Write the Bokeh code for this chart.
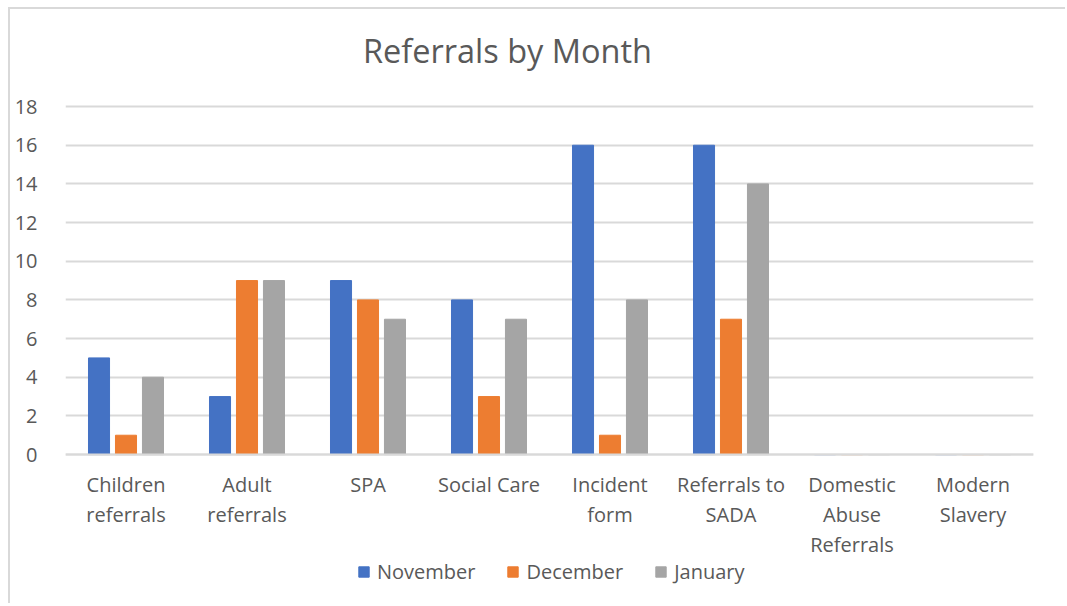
from bokeh.plotting import figure
from bokeh.models import ColumnDataSource, FactorRange, Range1d, FixedTicker, Legend, Label
from bokeh.transform import dodge
from bokeh.embed import file_html
from bokeh.resources import INLINE

categories = ["Children\nreferrals", "Adult\nreferrals", "SPA", "Social Care",
              "Incident\nform", "Referrals to\nSADA", "Domestic\nAbuse\nReferrals",
              "Modern\nSlavery"]
november = [5, 3, 9, 8, 16, 16, 0, 0]
december = [1, 9, 8, 3, 1, 7, 0, 0]
january = [4, 9, 7, 7, 8, 14, 0, 0]
y_ticks = [0, 2, 4, 6, 8, 10, 12, 14, 16, 18]

FONT = "Open Sans"
TXT = "#595959"
GRID = "#d9d9d9"

src = ColumnDataSource(dict(cat=categories, nov=november, dec=december, jan=january))

# frame spans the full height so title, category labels and legend live inside it
p = figure(x_range=FactorRange(factors=categories, range_padding=0),
           y_range=Range1d(-7.60, 23.02),
           width=1057, height=596, output_backend="svg", toolbar_location=None,
           min_border_left=55, min_border_right=34, min_border_top=0,
           min_border_bottom=4)
p.styles = {"border-top": "2px solid #d9d9d9", "border-left": "2px solid #d9d9d9",
            "margin-left": "8px", "margin-top": "7px"}
p.outline_line_color = None

bw = 0.174
off = 0.223
r1 = p.vbar(x=dodge("cat", -off, range=p.x_range), top="nov", width=bw, source=src,
            color="#4472C4")
r2 = p.vbar(x=dodge("cat", 0, range=p.x_range), top="dec", width=bw, source=src,
            color="#ED7D31")
r3 = p.vbar(x=dodge("cat", off, range=p.x_range), top="jan", width=bw, source=src,
            color="#A5A5A5")

p.xgrid.grid_line_color = None
p.ygrid.grid_line_color = GRID
p.ygrid.grid_line_width = 2
p.yaxis.ticker = FixedTicker(ticks=y_ticks)

for ax in (p.xaxis[0], p.yaxis[0]):
    ax.major_tick_line_color = None
    ax.minor_tick_line_color = None
    ax.major_label_text_font = FONT
    ax.major_label_text_font_size = "20px"
    ax.major_label_text_color = TXT
p.yaxis.axis_line_color = None
p.yaxis.major_label_standoff = 22
p.xaxis.fixed_location = 0
p.xaxis.axis_line_color = GRID
p.xaxis.axis_line_width = 2
p.xaxis.major_label_standoff = 10
p.xaxis.major_label_text_line_height = 1.12

title = Label(x=442, y=20.9, x_units="screen", text="Referrals by Month",
              text_font=FONT, text_font_size="32.5px", text_color=TXT,
              text_align="center", text_baseline="middle")
p.add_layout(title)

lg = Legend(items=[("November", [r1]), ("December", [r2]), ("January", [r3])],
            orientation="horizontal", location=(292, 16))
lg.glyph_width = 13
lg.glyph_height = 13
lg.label_standoff = 7
lg.spacing = 31
lg.padding = 0
lg.margin = 0
lg.border_line_color = None
lg.background_fill_alpha = 0
lg.label_text_font = FONT
lg.label_text_font_size = "20px"
lg.label_text_color = TXT
p.add_layout(lg)

open("out.html", "w").write(file_html(p, INLINE))
